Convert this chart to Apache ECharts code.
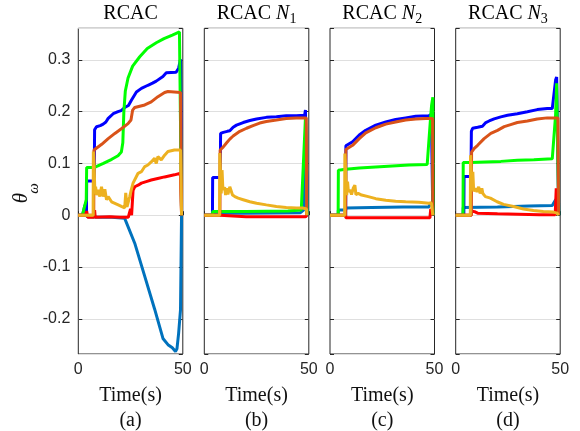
<!DOCTYPE html>
<html>
<head>
<meta charset="utf-8">
<script src="https://cdn.jsdelivr.net/npm/echarts@6/dist/echarts.min.js"></script>
<style>html,body{margin:0;padding:0;background:#fff}#c{width:580px;height:431px}</style>
</head>
<body>
<div id="c"></div>
<script>
// ---------- data (time [s], theta_omega) ----------
const panelTitles = ['RCAC', 'RCAC N1', 'RCAC N2', 'RCAC N3'];
const panelLabels = ['(a)', '(b)', '(c)', '(d)'];
const xTickLabels = ['0', '50'];
const yTickLabels = ['-0.2', '-0.1', '0', '0.1', '0.2', '0.3'];
const seriesNames = ['lightblue', 'blue', 'green', 'red', 'orange', 'yellow'];

// Panel (a) RCAC
const aLightBlue = [[0,0],[2,0],[3.2,0.02],[3.8,0.005],[4.2,-0.003],[10,-0.004],[16,-0.004],[22.2,-0.006],[27,-0.054],[31.8,-0.118],[36.5,-0.181],[40.5,-0.238],[42.9,-0.25],[45,-0.256],[46.5,-0.263],[47.2,-0.258],[48,-0.228],[48.9,-0.183],[49.3,-0.18],[49.4,0]];
const aBlue = [[0,0],[3.9,0],[4,0.066],[7.6,0.066],[7.8,0.165],[8.7,0.171],[10.5,0.173],[11.9,0.176],[13.2,0.18],[14.3,0.187],[16.7,0.196],[19,0.2],[20.5,0.202],[22.2,0.208],[24,0.212],[25.4,0.222],[27.8,0.238],[30.2,0.245],[33.3,0.251],[35.5,0.255],[37.3,0.259],[40.5,0.268],[42.1,0.275],[46.8,0.276],[48,0.284],[48.9,0.301],[49.4,0]];
const aGreen = [[0,0],[2,0],[3.8,0.03],[4,0.092],[7.5,0.092],[8,0.095],[12,0.1],[16,0.108],[19,0.115],[20.6,0.122],[21.3,0.14],[21.8,0.2],[22.5,0.24],[23.8,0.265],[26,0.288],[29.4,0.306],[33,0.322],[37.3,0.333],[41,0.341],[45,0.348],[48.4,0.354],[49.3,0.355],[49.4,0]];
const aRed = [[0,0],[3.5,0],[4,0.008],[4.5,-0.004],[7.5,-0.004],[7.8,0.01],[8.1,-0.004],[15,-0.003],[20,-0.004],[23.9,-0.004],[24.5,0.005],[25,0.012],[25.5,0.0],[26.2,0.048],[27,0.055],[28.6,0.058],[30.2,0.062],[32.5,0.065],[34.9,0.068],[38,0.071],[41.3,0.074],[46,0.078],[48.9,0.081],[49.4,0]];
const aOrange = [[0,0],[7.4,0],[7.5,0.126],[8,0.128],[11.2,0.137],[14.3,0.148],[17.5,0.158],[20.6,0.167],[23.8,0.177],[25.2,0.184],[26,0.203],[27,0.208],[31.8,0.213],[34.9,0.219],[38.1,0.229],[41.3,0.237],[42.9,0.239],[48.9,0.237],[49.4,0]];
const aYellow = [[0,0],[7.1,0],[7.2,0.123],[7.6,0.09],[7.95,0.042],[8.27,0.055],[8.75,0.039],[9.54,0.049],[10.3,0.036],[11.1,0.055],[11.9,0.036],[12.7,0.05],[13.5,0.03],[14.3,0.036],[15.9,0.026],[17.5,0.023],[19.1,0.02],[20.6,0.017],[22.2,0.014],[22.7,0.043],[23.3,0.016],[24.6,0.036],[25.4,0.05],[26.2,0.062],[27,0.059],[28.6,0.081],[30.2,0.084],[31.8,0.094],[33.3,0.097],[34.9,0.103],[36.5,0.11],[37.3,0.1],[38.1,0.113],[39.7,0.107],[41.3,0.116],[42.9,0.123],[46,0.126],[48.9,0.126],[49.4,0]];

// Panel (b) RCAC N1
const bLightBlue = [[0,0],[3.9,0],[4,0.004],[20,0.004],[46,0.005],[47.5,0.01],[48.4,0.11],[48.8,0.12],[49.2,0]];
const bBlue = [[0,0],[3.9,0],[4,0.073],[7.6,0.073],[7.8,0.158],[9.1,0.16],[11,0.162],[12.2,0.163],[13.8,0.17],[15.4,0.174],[18.6,0.179],[21.8,0.183],[25,0.186],[29.7,0.189],[34.5,0.19],[39.2,0.192],[44,0.192],[48,0.193],[48.4,0.203],[49.2,0.205],[49.3,0]];
const bGreen = [[0,0],[3.9,0],[4,0.007],[20,0.007],[40,0.008],[46.4,0.01],[48.4,0.188],[49.1,0.19],[49.2,0]];
const bRed = [[0,0],[7.5,0],[7.7,-0.003],[20,-0.003],[40,-0.003],[48.4,-0.003],[48.8,0],[49.2,0]];
const bOrange = [[0,0],[7.5,0],[7.6,0.126],[9.1,0.132],[10.7,0.14],[12.2,0.147],[13.8,0.153],[17,0.162],[20.2,0.168],[23.3,0.173],[26.5,0.178],[29.7,0.181],[34.5,0.184],[39.2,0.187],[44,0.188],[48.8,0.188],[49,0]];
const bYellow = [[0,0],[7.3,0],[7.4,0.12],[8.1,0.042],[8.5,0.087],[8.9,0.049],[9.7,0.054],[10.2,0.039],[10.8,0.052],[11.3,0.04],[12.2,0.055],[13,0.057],[13.5,0.039],[14.6,0.036],[16.2,0.033],[18.6,0.03],[21.8,0.026],[25,0.023],[29.7,0.02],[34.5,0.017],[39.2,0.015],[44,0.014],[47.2,0.014],[48.9,0.012],[49.1,0]];

// Panel (c) RCAC N2
const cLightBlue = [[0,0],[3.9,0],[4,0.01],[7.5,0.01],[7.6,0.014],[20,0.015],[35,0.016],[47.3,0.016],[48,0.022],[49,0.02],[49.2,0]];
const cBlue = [[0,0],[7.5,0],[7.6,0.134],[8,0.136],[10.8,0.142],[14,0.155],[17.1,0.164],[21.9,0.174],[26.7,0.18],[31.4,0.185],[36.2,0.188],[41,0.191],[47.3,0.192],[48.5,0.195],[49.2,0]];
const cGreen = [[0,0],[3.9,0],[4,0.087],[7.6,0.089],[14,0.091],[21.9,0.093],[29.8,0.095],[37.8,0.097],[46.5,0.098],[48.1,0.187],[48.6,0.212],[49.2,0.228],[49.3,0]];
const cRed = [[0,0],[7.5,0],[7.6,-0.005],[20,-0.005],[35,-0.005],[47.8,-0.005],[48.2,0.012],[49,0.012],[49.2,0]];
const cOrange = [[0,0],[7.5,0],[7.6,0.127],[10.8,0.135],[14,0.148],[17.1,0.159],[21.9,0.169],[26.7,0.176],[31.4,0.18],[36.2,0.184],[41,0.186],[45.8,0.187],[49.1,0.187],[49.2,0]];
const cYellow = [[0,0],[7,0],[7.1,0.119],[8,0.039],[8.4,0.065],[8.8,0.045],[9.6,0.049],[10.3,0.04],[11.1,0.052],[11.9,0.058],[12.4,0.04],[13.5,0.042],[15.1,0.039],[18.3,0.036],[21.9,0.032],[26.7,0.029],[31.4,0.027],[36.2,0.026],[42.5,0.025],[47.3,0.023],[48.5,0.024],[49.2,0]];

// Panel (d) RCAC N3
const dLightBlue = [[0,0],[3.5,0],[3.6,0.015],[20,0.016],[35,0.018],[46.2,0.019],[47.8,0.03],[49,0.03],[49.2,0]];
const dBlue = [[0,0],[3.9,0],[4,0.075],[7.3,0.075],[7.5,0.162],[8.1,0.168],[10.5,0.17],[12.8,0.172],[14.4,0.179],[16,0.182],[18.4,0.186],[21.6,0.19],[24.8,0.193],[29.5,0.196],[34.3,0.2],[39,0.204],[43.8,0.206],[46.2,0.206],[47.8,0.261],[48.3,0.267],[49.2,0.267],[49.3,0]];
const dGreen = [[0,0],[3.5,0],[3.6,0.102],[7.3,0.102],[14,0.103],[21.6,0.104],[29.5,0.106],[37.4,0.107],[46.2,0.109],[47.8,0.194],[48.3,0.255],[49.2,0.258],[49.3,0]];
const dRed = [[0,0],[7.4,0],[7.6,0.008],[9,0.007],[10.5,0.004],[20,0.003],[30,0.002],[40,0.001],[47.6,0.001],[48.1,0.052],[48.6,0.05],[49.2,0]];
const dOrange = [[0,0],[7.5,0],[7.6,0.122],[8.9,0.129],[10.5,0.135],[13.6,0.148],[16.8,0.158],[20,0.164],[23.2,0.171],[26.3,0.175],[29.5,0.179],[34.3,0.182],[39,0.186],[43.8,0.188],[48.9,0.188],[49.2,0]];
const dYellow = [[0,0],[7,0],[7.1,0.116],[7.8,0.049],[8.2,0.084],[8.6,0.046],[9.4,0.052],[10.2,0.045],[11,0.055],[11.7,0.042],[12.5,0.052],[13,0.042],[14.2,0.036],[16.6,0.033],[19.8,0.026],[22.9,0.021],[27.7,0.017],[32.4,0.012],[37.2,0.009],[41.9,0.007],[46.7,0.006],[48.6,0.004],[49.2,0]];

const panelData = [
  [aLightBlue, aBlue, aGreen, aRed, aOrange, aYellow],
  [bLightBlue, bBlue, bGreen, bRed, bOrange, bYellow],
  [cLightBlue, cBlue, cGreen, cRed, cOrange, cYellow],
  [dLightBlue, dBlue, dGreen, dRed, dOrange, dYellow]
];

// ---------- styling / layout ----------
const colors = ['#0072BD', '#0000FF', '#00FF00', '#FF0000', '#D95319', '#EDB120'];
const gridLefts = [78.3, 204.3, 330, 455.7];
const gridTop = 28.3, gridW = 104.5, gridH = 325.7;
const yMin = -0.268, yMax = 0.361;
const axisCol = '#262626';
const sans = '"Liberation Sans", Arial, sans-serif';
const serif = '"Liberation Serif", "Times New Roman", serif';

const grids = [], xAxes = [], yAxes = [], series = [], graphics = [];
gridLefts.forEach((L, i) => {
  grids.push({left: L, top: gridTop, width: gridW, height: gridH, show: true,
    containLabel: false, outerBoundsMode: 'none',
    borderColor: axisCol, borderWidth: 1, backgroundColor: 'transparent'});
  xAxes.push({type: 'value', gridIndex: i, min: 0, max: 50, interval: 50,
    axisLine: {show: false},
    axisTick: {show: true, inside: true, length: 4, lineStyle: {color: axisCol}},
    splitLine: {show: false},
    axisLabel: {show: true, margin: 8, color: axisCol, fontSize: 16, fontFamily: sans,
      formatter: v => (v === 0 ? xTickLabels[0] : xTickLabels[1])},
    name: 'Time(s)\n' + panelLabels[i], nameLocation: 'middle', nameGap: 21,
    nameTextStyle: {fontFamily: serif, fontSize: 20, lineHeight: 25, color: '#111', align: 'center'}
  });
  yAxes.push({type: 'value', gridIndex: i, min: yMin, max: yMax, minInterval: 0.1, maxInterval: 0.1,
    position: 'left',
    axisLine: {show: false},
    axisTick: {show: true, inside: true, length: 4, lineStyle: {color: axisCol}},
    splitLine: {show: true, lineStyle: {color: '#DFDFDF', width: 1}},
    axisLabel: {show: i === 0, showMinLabel: false, showMaxLabel: false, margin: 8,
      color: axisCol, fontSize: 16, fontFamily: sans,
      formatter: v => {
        const idx = Math.round(v * 10) + 2;
        return yTickLabels[idx] !== undefined ? yTickLabels[idx] : '';
      }}
  });
  yAxes.push({type: 'value', gridIndex: i, min: yMin, max: yMax, minInterval: 0.1, maxInterval: 0.1,
    position: 'right',
    axisLine: {show: false},
    axisTick: {show: true, inside: true, length: 4, lineStyle: {color: axisCol}},
    splitLine: {show: false}, axisLabel: {show: false}
  });
  panelData[i].forEach((d, k) => {
    series.push({type: 'line', name: seriesNames[k], xAxisIndex: i, yAxisIndex: i * 2,
      data: d, showSymbol: false, symbol: 'none', animation: false,
      lineStyle: {color: colors[k], width: 3}, z: 2 + k});
  });
  const cx = L + gridW / 2;
  const t = panelTitles[i];
  let text;
  if (i === 0) text = '{r|' + t + '}';
  else text = '{r|RCAC }{n|N}{s|' + t.slice(-1) + '}';
  graphics.push({type: 'text', x: cx, y: 14, style: {text: text, align: 'center', verticalAlign: 'middle',
    rich: {
      r: {fontFamily: serif, fontSize: 20, color: '#111', lineHeight: 24, verticalAlign: 'middle'},
      n: {fontFamily: serif, fontSize: 20, fontStyle: 'italic', color: '#111', lineHeight: 24, verticalAlign: 'middle'},
      s: {fontFamily: serif, fontSize: 14, color: '#111', lineHeight: 14, verticalAlign: 'bottom'}
    }}});
});
graphics.push({type: 'text', x: 21.7, y: 198, rotation: Math.PI / 2,
  style: {text: 'θ', font: 'italic 21px ' + serif, fill: '#111', align: 'center', verticalAlign: 'middle'}});
graphics.push({type: 'text', x: 34, y: 188.5, rotation: Math.PI / 2,
  style: {text: 'ω', font: 'italic 15px ' + serif, fill: '#111', align: 'center', verticalAlign: 'middle'}});

const chart = echarts.init(document.getElementById('c'), null, {renderer: 'canvas'});
chart.setOption({
  animation: false,
  backgroundColor: '#fff',
  grid: grids, xAxis: xAxes, yAxis: yAxes, series: series, graphic: graphics
});
</script>
</body>
</html>
